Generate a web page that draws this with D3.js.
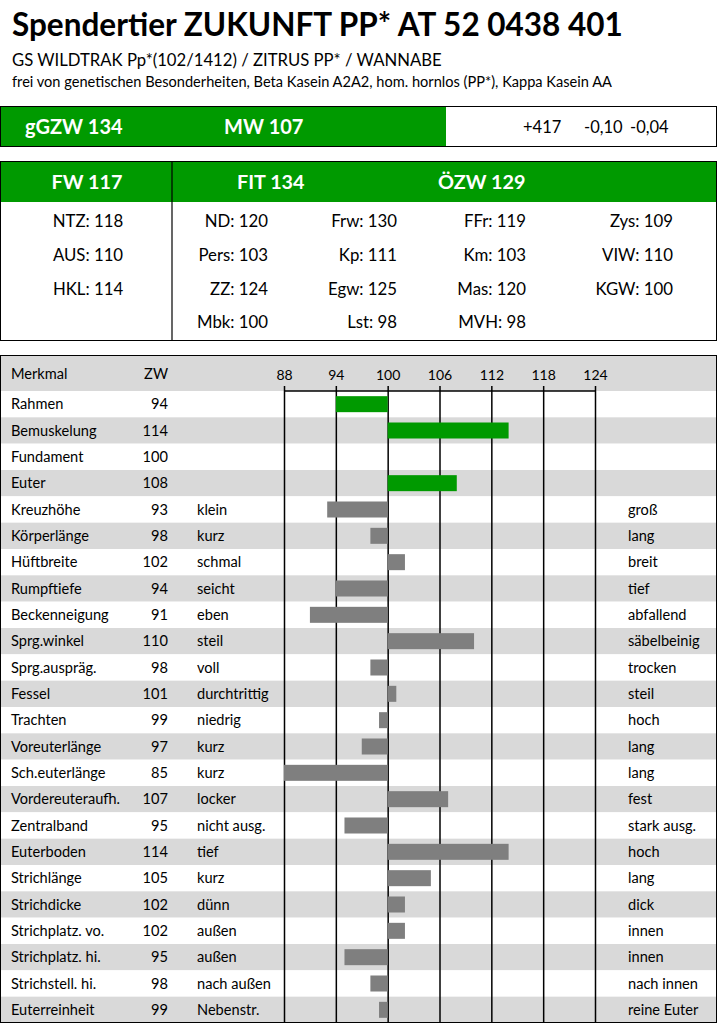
<!DOCTYPE html>
<html><head><meta charset="utf-8">
<script src="https://cdn.jsdelivr.net/npm/d3@7"></script>
<style>
html,body{margin:0;padding:0;background:#fff;}
svg{display:block;font-family:Lato,"Open Sans",sans-serif;}
</style></head>
<body>
<svg id="c" width="718" height="1024"></svg>
<script>
// ---- data ----
const title = "Spendertier ZUKUNFT PP* AT 52 0438 401";
const pedigree = "GS WILDTRAK Pp*(102/1412) / ZITRUS PP* / WANNABE";
const notes = "frei von genetischen Besonderheiten, Beta Kasein A2A2, hom. hornlos (PP*), Kappa Kasein AA";
const indexLabels = ["gGZW 134", "MW 107"];
const milkValues = ["+417", "-0,10", "-0,04"];
const groupHeaders = ["FW 117", "FIT 134", "ÖZW 129"];
const fwItems = ["NTZ: 118", "AUS: 110", "HKL: 114"];
const fitCol1 = ["ND: 120", "Pers: 103", "ZZ: 124", "Mbk: 100"];
const fitCol2 = ["Frw: 130", "Kp: 111", "Egw: 125", "Lst: 98"];
const ozwCol1 = ["FFr: 119", "Km: 103", "Mas: 120", "MVH: 98"];
const ozwCol2 = ["Zys: 109", "VIW: 110", "KGW: 100"];

const traits = ["Rahmen","Bemuskelung","Fundament","Euter","Kreuzhöhe","Körperlänge","Hüftbreite","Rumpftiefe","Beckenneigung","Sprg.winkel","Sprg.auspräg.","Fessel","Trachten","Voreuterlänge","Sch.euterlänge","Vordereuteraufh.","Zentralband","Euterboden","Strichlänge","Strichdicke","Strichplatz. vo.","Strichplatz. hi.","Strichstell. hi.","Euterreinheit"];
const zw = [94,114,100,108,93,98,102,94,91,110,98,101,99,97,85,107,95,114,105,102,102,95,98,99];
const leftLabels = ["","","","","klein","kurz","schmal","seicht","eben","steil","voll","durchtrittig","niedrig","kurz","kurz","locker","nicht ausg.","tief","kurz","dünn","außen","außen","nach außen","Nebenstr."];
const rightLabels = ["","","","","groß","lang","breit","tief","abfallend","säbelbeinig","trocken","steil","hoch","lang","lang","fest","stark ausg.","hoch","lang","dick","innen","innen","nach innen","reine Euter"];
const tickValues = [88,94,100,106,112,118,124];
const greenCount = 4;

// ---- drawing ----
const GREEN = "#009a00", GREY_ROW = "#d9d9d9", BAR_GREY = "#7f7f7f";
const svg = d3.select("#c");

svg.append("text").attr("x",12).attr("y",36).attr("font-size",31.5).attr("font-weight","bold").attr("fill","#000").text(title);
svg.append("text").attr("x",12).attr("y",66).attr("font-size",16.7).attr("fill","#000").text(pedigree);
svg.append("text").attr("x",12).attr("y",87).attr("font-size",14.6).attr("fill","#000").text(notes);

// index bar
svg.append("rect").attr("x",0.5).attr("y",106.5).attr("width",716).attr("height",40).attr("fill","#fff").attr("stroke","#000");
svg.append("rect").attr("x",1).attr("y",107).attr("width",445).attr("height",39).attr("fill",GREEN);
svg.selectAll("text.idx").data(indexLabels).join("text").attr("class","idx")
  .attr("x",(d,i)=>[25,224][i]).attr("y",134).attr("font-size",20).attr("font-weight","bold").attr("fill","#fff").text(d=>d);
svg.selectAll("text.milk").data(milkValues).join("text").attr("class","milk")
  .attr("x",(d,i)=>[523,584,630][i]).attr("y",133).attr("font-size",16.5).attr("fill","#000").text(d=>d);

// breeding values box
svg.append("rect").attr("x",0.5).attr("y",161.5).attr("width",716).attr("height",179).attr("fill","#fff").attr("stroke","#000");
svg.append("rect").attr("x",1).attr("y",162).attr("width",715).attr("height",40).attr("fill",GREEN);
svg.append("line").attr("x1",172).attr("x2",172).attr("y1",161).attr("y2",341).attr("stroke","#000").attr("stroke-width",1.2);
svg.append("text").attr("x",87).attr("y",189).attr("text-anchor","middle").attr("font-size",19.8).attr("font-weight","bold").attr("fill","#fff").text(groupHeaders[0]);
svg.append("text").attr("x",237).attr("y",189).attr("font-size",19.8).attr("font-weight","bold").attr("fill","#fff").text(groupHeaders[1]);
svg.append("text").attr("x",438).attr("y",189).attr("font-size",19.8).attr("font-weight","bold").attr("fill","#fff").text(groupHeaders[2]);
const rowY = [227,261,295,328];
const addCol = (items, xp, anchor) => svg.append("g").selectAll("text").data(items).join("text")
  .attr("x",xp).attr("y",(d,i)=>rowY[i]).attr("text-anchor",anchor).attr("font-size",16.8).attr("fill","#000").text(d=>d);
addCol(fwItems, 88, "middle");
addCol(fitCol1, 268, "end");
addCol(fitCol2, 397, "end");
addCol(ozwCol1, 526, "end");
addCol(ozwCol2, 673, "end");

// linear profile chart
const chartTop = 391, chartBottom = 1023;
const x = d3.scaleLinear().domain([88,124]).range([284,595]).clamp(true);
const y = d3.scaleBand().domain(traits).range([chartTop,chartBottom]);
const FS = 14.6;

svg.append("rect").attr("x",1).attr("y",356).attr("width",716).attr("height",chartTop-356).attr("fill",GREY_ROW);
svg.append("g").selectAll("rect").data(traits).join("rect")
  .attr("x",1).attr("width",716).attr("y",d=>y(d)).attr("height",y.bandwidth())
  .attr("fill",(d,i)=>i%2? GREY_ROW : "#fff");

svg.append("text").attr("x",11).attr("y",379).attr("font-size",FS).attr("fill","#000").text("Merkmal");
svg.append("text").attr("x",168).attr("y",379).attr("text-anchor","end").attr("font-size",FS).attr("fill","#000").text("ZW");

// grid lines + tick labels
const axis = d3.axisTop(x).tickValues(tickValues).tickSize(5).tickPadding(6).tickFormat(d3.format("d"));
const gAxis = svg.append("g").attr("transform",`translate(0,${chartTop})`).call(axis);
gAxis.select(".domain").attr("stroke","#000").attr("stroke-width",1.5).attr("d",`M${x(88)},0H${x(124)}`);
gAxis.selectAll(".tick line").attr("stroke","#000").attr("stroke-width",1.5).attr("y2",chartBottom-chartTop).attr("y1",-5);
gAxis.selectAll(".tick text").attr("font-size",14).attr("font-family","Lato,sans-serif").attr("fill","#000");

// bars
const barH = 16;
svg.append("g").selectAll("rect").data(traits).join("rect")
  .attr("x",(d,i)=>Math.min(x(zw[i]),x(100)))
  .attr("width",(d,i)=>Math.abs(x(zw[i])-x(100)))
  .attr("y",d=>y(d)+(y.bandwidth()-barH)/2)
  .attr("height",barH)
  .attr("fill",(d,i)=>i<greenCount?GREEN:BAR_GREY);

// row texts
const rowText = (arr, xp, anchor) => svg.append("g").selectAll("text").data(arr).join("text")
  .attr("x",xp).attr("y",(d,i)=>y(traits[i])+y.bandwidth()/2+5).attr("text-anchor",anchor)
  .attr("font-size",FS).attr("fill","#000").text(d=>d);
rowText(traits, 11, "start");
rowText(zw, 168, "end");
rowText(leftLabels, 197, "start");
rowText(rightLabels, 628, "start");

// outer frame
svg.append("rect").attr("x",0.5).attr("y",355.5).attr("width",716).attr("height",667).attr("fill","none").attr("stroke","#000");
</script>
</body></html>
